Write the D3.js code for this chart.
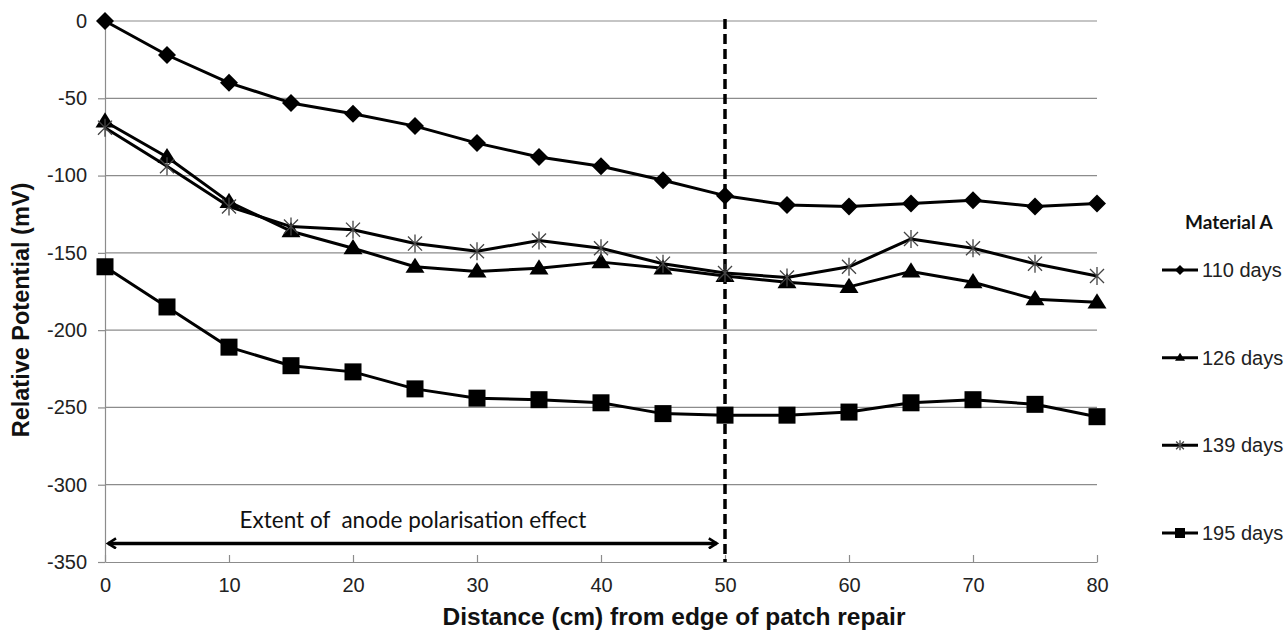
<!DOCTYPE html>
<html>
<head>
<meta charset="utf-8">
<script src="https://cdn.jsdelivr.net/npm/d3@7"></script>
<style>
  html, body { margin: 0; padding: 0; background: #fff; }
  svg { display: block; }
</style>
</head>
<body>
<svg id="chart" width="1285" height="632"></svg>
<script>
// Distance from the edge of the patch repair (cm)
const distances = [0, 5, 10, 15, 20, 25, 30, 35, 40, 45, 50, 55, 60, 65, 70, 75, 80];

// Relative potential (mV) for each age of Material A
const days110 = [0, -22, -40, -53, -60, -68, -79, -88, -94, -103, -113, -119, -120, -118, -116, -120, -118];
const days126 = [-65, -88, -117, -136, -147, -159, -162, -160, -156, -160, -165, -169, -172, -162, -169, -180, -182];
const days139 = [-69, -94, -120, -133, -135, -144, -149, -142, -147, -157, -163, -166, -159, -141, -147, -157, -165];
const days195 = [-159, -185, -211, -223, -227, -238, -244, -245, -247, -254, -255, -255, -253, -247, -245, -248, -256];

const seriesNames = ["110 days", "126 days", "139 days", "195 days"];
const seriesMarkers = ["diamond", "triangle", "star", "square"];
const seriesValues = [days110, days126, days139, days195];

const xTicks = [0, 10, 20, 30, 40, 50, 60, 70, 80];
const yTicks = [0, -50, -100, -150, -200, -250, -300, -350];

const legendTitle = "Material A";
const xTitle = "Distance (cm) from edge of patch repair";
const yTitle = "Relative Potential (mV)";
const extentLabel = "Extent of  anode polarisation effect";
const extentFrom = 0, extentTo = 49.5;   // cm, arrow span
const boundary = 50;                     // cm, dashed boundary line

const svg = d3.select("#chart");
const plotLeft = 105, plotRight = 1097, plotTop = 21, plotBottom = 562;

const x = d3.scaleLinear().domain([0, 80]).range([plotLeft, plotRight]);
const y = d3.scaleLinear().domain([-350, 0]).range([plotBottom, plotTop]);

const axisGrey = "#8c8c8c";
const tickFont = "'Liberation Sans', Arial, sans-serif";
const plainNumber = d => String(d);   // hyphen-minus, as in the spreadsheet

// horizontal gridlines
svg.append("g")
  .selectAll("line")
  .data(yTicks.filter(v => v !== -350))
  .join("line")
  .attr("x1", plotLeft).attr("x2", plotRight)
  .attr("y1", d => y(d)).attr("y2", d => y(d))
  .attr("stroke", axisGrey).attr("stroke-width", 1.2);

// y axis
const yAxis = svg.append("g")
  .attr("transform", `translate(${plotLeft},0)`)
  .call(d3.axisLeft(y).tickValues(yTicks).tickFormat(plainNumber)
    .tickSize(7).tickSizeOuter(0).tickPadding(11));
yAxis.select(".domain").attr("stroke", axisGrey).attr("stroke-width", 1.2);
yAxis.selectAll(".tick line").attr("stroke", axisGrey).attr("stroke-width", 1.2);
yAxis.selectAll(".tick text")
  .attr("font-family", tickFont).attr("font-size", 20).attr("fill", "#222");

// x axis (ticks point inward)
const xAxis = svg.append("g")
  .attr("transform", `translate(0,${plotBottom})`)
  .call(d3.axisBottom(x).tickValues(xTicks).tickFormat(plainNumber)
    .tickSize(-7).tickSizeOuter(0).tickPadding(16));
xAxis.select(".domain").attr("stroke", axisGrey).attr("stroke-width", 1.2);
xAxis.selectAll(".tick line").attr("stroke", axisGrey).attr("stroke-width", 1.2);
xAxis.selectAll(".tick text")
  .attr("font-family", tickFont).attr("font-size", 20).attr("fill", "#222");

// axis titles
svg.append("text")
  .attr("x", 674).attr("y", 625)
  .attr("text-anchor", "middle")
  .attr("font-family", tickFont).attr("font-weight", "bold").attr("font-size", 24.5)
  .attr("fill", "#111")
  .text(xTitle);

svg.append("text")
  .attr("transform", "translate(29,310) rotate(-90)")
  .attr("text-anchor", "middle")
  .attr("font-family", tickFont).attr("font-weight", "bold").attr("font-size", 23.5)
  .attr("fill", "#111")
  .text(yTitle);

// dashed boundary at 50 cm
svg.append("line")
  .attr("x1", x(boundary)).attr("x2", x(boundary))
  .attr("y1", y(0) - 2).attr("y2", plotBottom)
  .attr("stroke", "#000").attr("stroke-width", 3.5)
  .attr("stroke-dasharray", "10,5");

// double-headed arrow showing the extent of the polarisation effect
const defs = svg.append("defs");
defs.append("marker")
  .attr("id", "arrowHead")
  .attr("viewBox", "0 0 12 12")
  .attr("refX", 10).attr("refY", 6)
  .attr("markerWidth", 12).attr("markerHeight", 12)
  .attr("markerUnits", "userSpaceOnUse")
  .attr("orient", "auto-start-reverse")
  .append("path")
  .attr("d", "M2,1 L10,6 L2,11")
  .attr("fill", "none").attr("stroke", "#000").attr("stroke-width", 2.6)
  .attr("stroke-linejoin", "miter");

const arrowY = y(-338);
svg.append("line")
  .attr("x1", x(extentFrom) + 3).attr("x2", x(extentTo) - 2)
  .attr("y1", arrowY).attr("y2", arrowY)
  .attr("stroke", "#000").attr("stroke-width", 3.5)
  .attr("marker-start", "url(#arrowHead)")
  .attr("marker-end", "url(#arrowHead)");

svg.append("text")
  .attr("x", 413).attr("y", 528)
  .attr("text-anchor", "middle")
  .style("white-space", "pre")
  .attr("font-family", "Lato, 'Open Sans', sans-serif").attr("font-size", 22.5)
  .attr("fill", "#111")
  .text(extentLabel);

// marker shapes
function drawMarker(g, type, size, strokeStar) {
  const h = size / 2;
  if (type === "diamond") {
    g.append("path").attr("d", `M0,${-h} L${h},0 L0,${h} L${-h},0 Z`).attr("fill", "#000");
  } else if (type === "triangle") {
    const th = size * 0.8;
    g.append("path").attr("d", `M0,${-th * 0.6} L${h},${th * 0.4} L${-h},${th * 0.4} Z`).attr("fill", "#000");
  } else if (type === "square") {
    g.append("rect").attr("x", -h).attr("y", -h).attr("width", size).attr("height", size).attr("fill", "#000");
  } else if (type === "star") {
    const a = h * 0.78;
    g.append("path")
      .attr("d", `M${-a},${-a} L${a},${a} M${-a},${a} L${a},${-a} M0,${-h} L0,${h}`)
      .attr("fill", "none").attr("stroke", strokeStar).attr("stroke-width", 1.3);
  }
}

const markerSize = { diamond: 18, triangle: 19, square: 17, star: 18 };

const line = d3.line().x(d => x(d[0])).y(d => y(d[1]));

seriesValues.forEach((vals, i) => {
  const pts = distances.map((dx, j) => [dx, vals[j]]);
  const g = svg.append("g");
  g.append("path")
    .attr("d", line(pts))
    .attr("fill", "none").attr("stroke", "#000").attr("stroke-width", 3)
    .attr("stroke-linejoin", "round");
  pts.forEach(p => {
    const m = g.append("g").attr("transform", `translate(${x(p[0])},${y(p[1])})`);
    drawMarker(m, seriesMarkers[i], markerSize[seriesMarkers[i]], "#444");
  });
});

// legend
svg.append("text")
  .attr("x", 1185).attr("y", 229)
  .attr("font-family", "Lato, 'Open Sans', sans-serif").attr("font-weight", "bold").attr("font-size", 19)
  .attr("fill", "#111")
  .text(legendTitle);

const legendY = d3.scaleLinear().domain([0, 3]).range([270, 533]);
seriesNames.forEach((name, i) => {
  const ly = legendY(i);
  svg.append("line")
    .attr("x1", 1162).attr("x2", 1198).attr("y1", ly).attr("y2", ly)
    .attr("stroke", "#000").attr("stroke-width", 3);
  const m = svg.append("g").attr("transform", `translate(1180,${ly})`);
  drawMarker(m, seriesMarkers[i], 10, "#444");
  svg.append("text")
    .attr("x", 1202).attr("y", ly + 7)
    .attr("font-family", tickFont).attr("font-size", 20).attr("fill", "#222")
    .text(name);
});
</script>
</body>
</html>
